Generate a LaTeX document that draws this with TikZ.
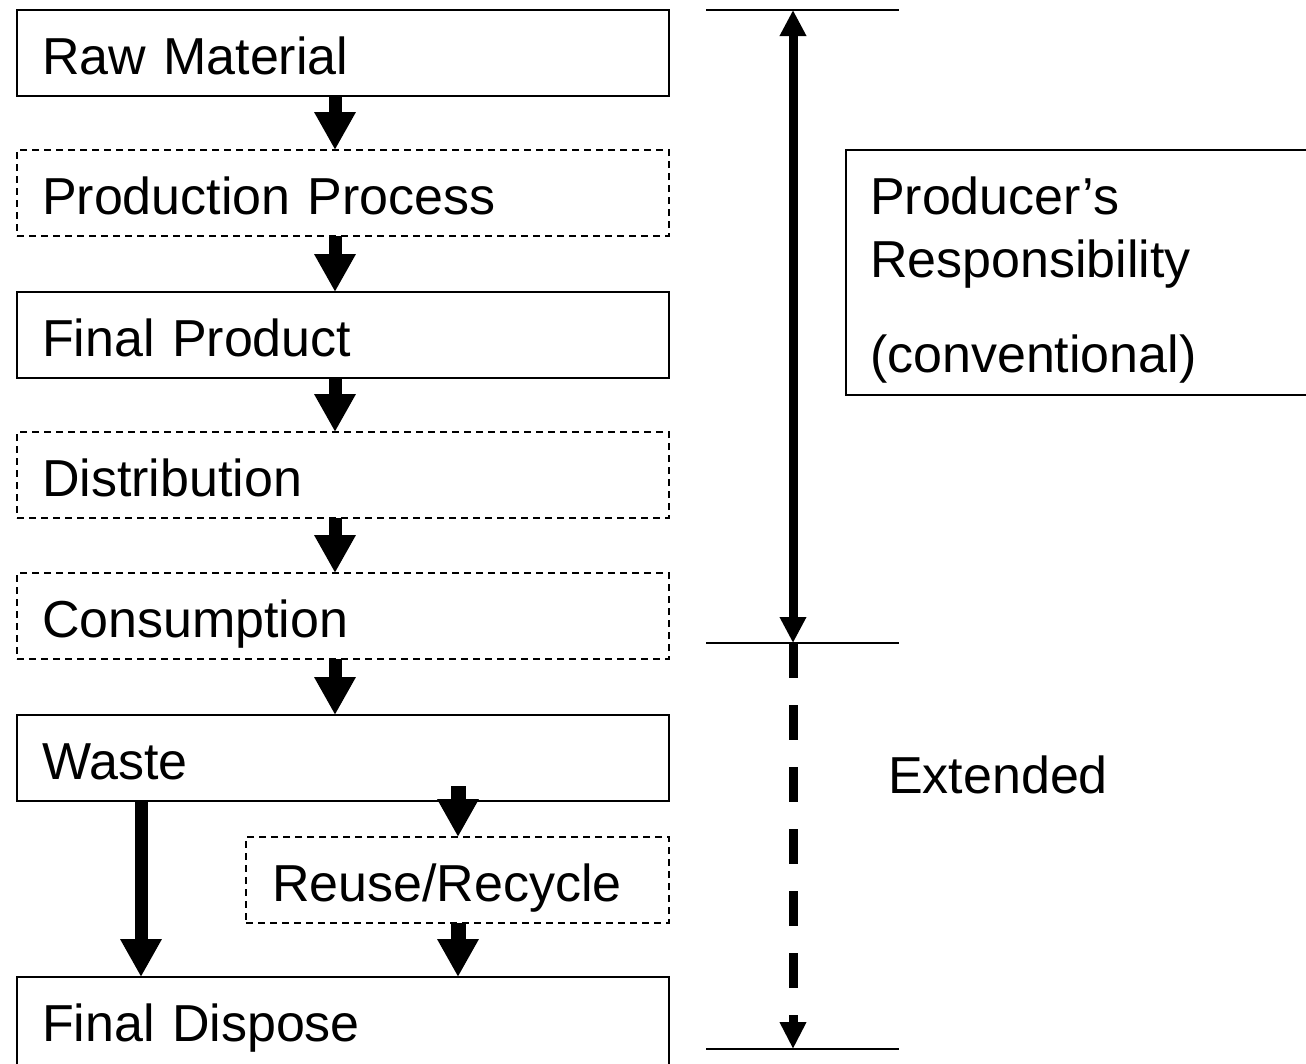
\documentclass[tikz,border=0pt]{standalone}
\usepackage{fontspec}
\setmainfont{Liberation Sans}
\usetikzlibrary{arrows.meta}
\tikzset{
  big/.style={font=\fontsize{52pt}{63pt}\selectfont},
  box/.style={big, draw, line width=2pt, outer sep=0pt, anchor=north west,
    minimum width=652pt, minimum height=86pt, inner xsep=25pt, inner ysep=0pt,
    text width=602pt, align=left, text height=64pt, text depth=22pt},
  dbox/.style={box, dash pattern=on 7pt off 5pt},
  fat/.style={line width=13pt, -{Triangle[width=39pt,length=38pt]}},
  fatb/.style={line width=15pt, -{Triangle[width=39pt,length=38pt]}},
  hline/.style={line width=2pt},
  resp/.style={line width=9pt},
}
\begin{document}
\begin{tikzpicture}[x=1pt,y=-1pt]
\useasboundingbox (0,0) rectangle (1306,1063);
\clip (0,0) rectangle (1306,1063);
% left column
\node[box]  (raw)  at (17,10)  {Raw Material};
\node[dbox] (prod) at (17,150) {Production Process};
\node[box]  (fin)  at (17,292) {Final Product};
\node[dbox] (dist) at (17,432) {Distribution};
\node[dbox] (cons) at (17,573) {Consumption};
\node[box]  (waste) at (17,715) {Waste};
\node[dbox, minimum width=423pt, text width=371pt, inner xsep=26pt] (reuse) at (246,837) {Reuse/Recycle};
\node[box, text depth=50pt] (disp) at (17,977) {Final Dispose};
% arrow columns
\coordinate (cx) at (335,0);
\coordinate (lx) at (141,0);
\coordinate (rx) at (458,0);
\draw[fat] (raw.south -| cx) -- (prod.north -| cx);
\draw[fat] (prod.south -| cx) -- (fin.north -| cx);
\draw[fat] (fin.south -| cx) -- (dist.north -| cx);
\draw[fat] (dist.south -| cx) -- (cons.north -| cx);
\draw[fat] (cons.south -| cx) -- (waste.north -| cx);
\draw[fat] (waste.south -| lx) -- (disp.north -| lx);
\coordinate (rs) at (458,786);
\draw[fatb] (rs) -- (reuse.north -| rx);
\draw[fatb] (reuse.south -| rx) -- (disp.north -| rx);
% right side
\node[big, draw, line width=2pt, outer sep=0pt, anchor=north west, text width=472pt,
  align=left, inner xsep=24pt, inner ysep=0pt, text height=64pt, text depth=181pt]
  (pr) at (846,150) {Producer’s\\Responsibility\\[32pt](conventional)};
\node[big, anchor=base west, inner sep=0pt] (ext) at (888,793) {Extended};
\coordinate (t1) at (793,10);
\coordinate (m1) at (793,643);
\coordinate (b1) at (793,1049);
\coordinate (tl) at (706,10);  \coordinate (tr) at (899,10);
\coordinate (ml) at (706,643); \coordinate (mr) at (899,643);
\coordinate (bl) at (706,1049); \coordinate (br) at (899,1049);
\draw[hline] (tl) -- (tr);
\draw[hline] (ml) -- (mr);
\draw[hline] (bl) -- (br);
\draw[resp, {Triangle[width=25pt,length=26pt]}-{Triangle[width=25pt,length=26pt]}] (t1) -- (m1);
\draw[resp, dash pattern=on 35pt off 27pt, -{Triangle[width=25pt,length=27pt]}] (m1) -- (b1);
\end{tikzpicture}
\end{document}
